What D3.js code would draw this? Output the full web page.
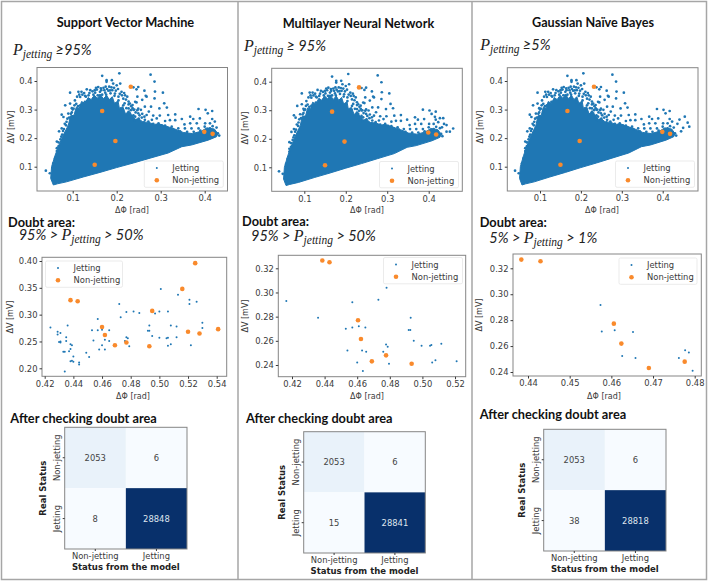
<!DOCTYPE html>
<html>
<head>
<meta charset="utf-8">
<script src="https://cdn.jsdelivr.net/npm/d3@7"></script>
<style>
  body { margin: 0; background: #fff; }
  text { font-family: "DejaVu Sans", sans-serif; }
</style>
</head>
<body>
<svg id="chart" width="708" height="582"></svg>
<script>
// outline of the solid part of the big cloud, [dPhi, dV]
const cloudOutline = [
  [.056,.036],[.065,.040],[.086,.047],[.124,.064],[.162,.080],[.200,.097],[.238,.113],[.276,.130],
  [.317,.148],[.348,.170],[.370,.176],[.408,.193],[.427,.205],[.430,.216],[.422,.232],[.405,.236],
  [.392,.224],[.372,.216],[.351,.220],[.332,.232],[.320,.238],[.308,.244],[.296,.250],[.285,.248],
  [.272,.256],[.260,.256],[.250,.268],[.242,.266],[.235,.280],[.226,.292],[.220,.285],[.214,.310],
  [.206,.305],[.203,.330],[.195,.322],[.190,.345],[.183,.335],[.177,.350],[.170,.338],[.163,.352],
  [.156,.340],[.149,.350],[.142,.335],[.135,.342],[.128,.322],[.120,.328],[.115,.305],[.108,.308],
  [.103,.280],[.095,.278],[.090,.245],[.080,.215],[.070,.180],[.060,.140],[.052,.100],[.050,.059]
];

// points read around the solid part, same in all three top plots
const cloudOutliers = [
  [.039,.086],[.206,.427],[.277,.422],[.286,.398],[.177,.403],[.238,.378],[.245,.371],[.263,.366],
  [.247,.345],[.268,.345],[.287,.363],[.305,.359],[.048,.077],[.056,.112],[.064,.188],[.075,.234]
];
const domePoints = [
  [.167,.418],[.189,.403],[.177,.397],[.158,.379],[.170,.376],[.132,.371],[.113,.362],[.094,.359],
  [.117,.344],[.136,.350],[.151,.359],[.105,.332],[.094,.321],[.083,.315],[.075,.282],[.079,.274],
  [.069,.224],[.200,.385],[.211,.362],[.196,.356],[.219,.350],[.230,.321],[.242,.327],[.249,.379],
  [.208,.391],[.192,.391],[.185,.367],[.174,.359],[.162,.350],[.147,.338],[.128,.327],[.117,.315],
  [.102,.303],[.090,.286],[.086,.257],[.227,.292],[.238,.280],[.249,.303],[.215,.315],[.204,.332],
  [.189,.327],
  [.214,.300],[.218,.322],[.222,.305],[.226,.282],[.232,.298],[.236,.272],[.112,.312],[.108,.320],
  [.122,.352],[.128,.348],[.145,.364],[.155,.370],[.165,.368],[.178,.372],[.188,.378],[.098,.290],
  [.092,.272],[.100,.275],[.108,.292],[.085,.245],[.080,.232],[.076,.212],[.072,.196],[.068,.172],
  [.064,.155],[.060,.130],[.058,.108],
  [.110,.345],[.115,.352],[.120,.362],[.126,.358],[.130,.345],[.138,.358],[.140,.368],[.147,.352],
  [.150,.368],[.153,.376],[.157,.350],[.162,.362],[.164,.374],[.167,.352],[.172,.368],[.175,.380],
  [.176,.352],[.181,.366],[.183,.380],[.186,.357],[.190,.368],[.194,.376],[.195,.348],[.198,.366],
  [.203,.372],[.204,.345],[.207,.355],[.212,.350],[.215,.338],[.217,.358],[.221,.335],[.224,.345],
  [.227,.318],[.233,.312],[.236,.305],[.240,.300],[.243,.290],[.247,.298],[.252,.280],[.258,.285],
  [.263,.275],[.100,.300],[.104,.315],[.098,.305],[.088,.268],[.096,.285],[.082,.250],[.078,.225],
  [.074,.205],[.068,.185],[.064,.165]
];
const tailPoints = [
  [.227,.328],[.236,.316],[.245,.325],[.258,.334],[.266,.348],[.286,.339],[.308,.322],[.314,.307],
  [.264,.310],[.278,.310],[.297,.304],[.273,.293],[.255,.299],[.227,.304],[.238,.299],[.249,.287],
  [.268,.281],[.283,.279],[.298,.279],[.317,.281],[.333,.283],[.321,.263],[.310,.260],[.333,.263],
  [.348,.267],[.367,.275],[.374,.267],[.386,.302],[.402,.299],[.407,.287],[.417,.295],[.389,.269],
  [.417,.267],[.423,.258],[.412,.252],[.401,.252],[.382,.252],[.367,.252],[.354,.248],[.264,.264],
  [.280,.264],[.291,.269],[.257,.272],[.242,.275],[.230,.287],[.295,.252],[.310,.244],[.325,.240],
  [.340,.234],[.355,.234],[.370,.234],[.386,.234],[.427,.237],[.430,.217],[.433,.209],[.412,.234],
  [.405,.205],[.240,.262],[.250,.268],[.262,.255],[.272,.258],[.283,.250],[.292,.246],[.302,.245],
  [.315,.236],[.328,.232],[.344,.224],[.360,.222],[.375,.222],[.390,.226],[.400,.240],[.418,.242],
  [.408,.222],[.420,.222],[.397,.212]
];
const mlpExtra = [[.459,.236],[.451,.225],[.443,.248],[.435,.272],[.427,.272],[.415,.277],[.443,.225],[.437,.252],[.432,.240]];
const gnbExtra = [[.465,.240],[.461,.254],[.454,.275],[.441,.265],[.445,.224],[.436,.250],[.450,.236]];
const cloudNonJetting = [[.150,.107],[.197,.190],[.167,.295],[.232,.380],[.399,.222],[.418,.215]];

// doubt area points
const svmDoubtJetting = [
  [.424,.276],[.429,.268],[.431,.266],[.429,.263],[.430,.249],[.431,.248],[.431,.250],[.435,.258],
  [.435,.251],[.436,.280],[.433,.231],[.434,.231],[.437,.232],[.438,.236],[.438,.245],[.439,.243],
  [.434,.194],[.438,.213],[.439,.214],[.440,.212],[.440,.222],[.444,.211],[.444,.207],[.449,.229],
  [.451,.221],[.453,.271],[.454,.252],[.457,.292],[.457,.271],[.458,.235],[.460,.243],[.460,.272],
  [.462,.253],[.462,.235],[.465,.271],[.465,.251],[.472,.320],[.473,.295],[.476,.251],[.477,.258],
  [.478,.256],[.477,.305],[.479,.241],[.482,.306],[.486,.303],[.492,.270],[.493,.270],[.493,.280],
  [.495,.260],[.497,.302],[.500,.257],[.500,.306],[.501,.348],[.505,.256],[.506,.257],[.506,.306],
  [.506,.242],[.508,.245],[.508,.280],[.512,.278],[.512,.258],[.513,.337],[.521,.328],[.521,.320],
  [.522,.243],[.526,.324],[.530,.285],[.530,.275]
];
const svmDoubtNonJetting = [
  [.438,.327],[.443,.325],[.460,.277],[.462,.262],[.469,.243],[.477,.248],[.493,.241],[.495,.307],
  [.516,.348],[.525,.396],[.520,.268],[.528,.265],[.541,.273]
];
const mlpDoubtJetting = [
  [.4165,.293],[.436,.279],[.453,.270],[.457,.271],[.457,.292],[.461,.272],[.465,.271],[.454,.252],
  [.460,.242],[.463,.252],[.4635,.235],[.4655,.251],[.473,.294],[.478,.304],[.476,.251],[.4777,.257],
  [.4787,.255],[.4795,.241],[.4916,.269],[.4926,.269],[.4928,.279],[.4947,.260],[.4995,.256],
  [.5047,.256],[.5055,.2565],[.506,.242],[.508,.244],[.5116,.2575],[.521,.243]
];
const mlpDoubtNonJetting = [
  [.4386,.3265],[.443,.325],[.4605,.277],[.4623,.2615],[.469,.243],[.4777,.248],[.4934,.241]
];
const gnbDoubtJetting = [
  [.4574,.2917],[.4577,.2712],[.4608,.2722],[.4652,.2709],[.4626,.2524],[.4658,.2508],[.4762,.2508],
  [.4777,.2568],[.4786,.255],[.4795,.241]
];
const gnbDoubtNonJetting = [
  [.4384,.3267],[.443,.3254],[.4606,.2773],[.4624,.2619],[.469,.2431],[.4776,.248]
];

// confusion matrices
const statusLabels = ["Non-jetting", "Jetting"];
const svmMatrix = [[2053, 6], [8, 28848]];
const mlpMatrix = [[2053, 6], [15, 28841]];
const gnbMatrix = [[2053, 6], [38, 28818]];

const cloudXTicks = [0.1, 0.2, 0.3, 0.4];
const cloudYTicks = [0.1, 0.2, 0.3, 0.4];

const blue = "#1f77b4";
const orange = "#f98a2c";
const axisColor = "#3a3a3a";
const frameColor = "#858585";
const borderColor = "#a6a6a6";

const svg = d3.select("#chart");

// page frame
svg.append("g")
  .attr("fill", "none")
  .attr("stroke", borderColor)
  .attr("stroke-width", 1.5)
  .selectAll("path")
  .data(["M1.5 579.5V1.5H706.5V579.5Z", "M238 1.5V579.5", "M472 1.5V579.5"])
  .join("path")
  .attr("d", d => d);

function drawScatter(o) {
  const x = d3.scaleLinear().domain(o.xDomain).range(o.xRange);
  const y = d3.scaleLinear().domain(o.yDomain).range(o.yRange);
  const g = svg.append("g");

  g.append("rect")
    .attr("x", o.frame[0]).attr("y", o.frame[1])
    .attr("width", o.frame[2] - o.frame[0]).attr("height", o.frame[3] - o.frame[1])
    .attr("fill", "#fff");

  if (o.outline) {
    const line = d3.line().x(d => x(d[0])).y(d => y(d[1])).curve(d3.curveLinearClosed);
    g.append("path").attr("d", line(o.outline)).attr("fill", blue).attr("stroke", blue).attr("stroke-width", 1);
  }

  g.selectAll(".jet")
    .data(o.jetting)
    .join("circle")
    .attr("class", "jet")
    .attr("cx", d => x(d[0])).attr("cy", d => y(d[1]))
    .attr("r", o.jetR)
    .attr("fill", blue);

  g.selectAll(".non")
    .data(o.nonJetting)
    .join("circle")
    .attr("class", "non")
    .attr("cx", d => x(d[0])).attr("cy", d => y(d[1]))
    .attr("r", 2.3)
    .attr("fill", orange);

  g.append("rect")
    .attr("x", o.frame[0]).attr("y", o.frame[1])
    .attr("width", o.frame[2] - o.frame[0]).attr("height", o.frame[3] - o.frame[1])
    .attr("fill", "none")
    .attr("stroke", frameColor);

  const xAxis = g.append("g")
    .attr("transform", `translate(0,${o.frame[3]})`)
    .call(d3.axisBottom(x).tickValues(o.xTicks).tickSize(2.5).tickPadding(2).tickFormat(d3.format(o.xFormat)));
  const yAxis = g.append("g")
    .attr("transform", `translate(${o.frame[0]},0)`)
    .call(d3.axisLeft(y).tickValues(o.yTicks).tickSize(2.5).tickPadding(2).tickFormat(d3.format(o.yFormat)));
  [xAxis, yAxis].forEach(a => {
    a.select(".domain").remove();
    a.selectAll("line").attr("stroke", axisColor);
    a.selectAll("text").attr("fill", axisColor).style("font-size", "8.4px").style("font-family", '"DejaVu Sans"');
  });

  g.append("text")
    .attr("x", o.xLabel[0]).attr("y", o.xLabel[1])
    .attr("text-anchor", "middle")
    .attr("font-size", 8).attr("fill", axisColor)
    .text("ΔΦ [rad]");
  g.append("text")
    .attr("transform", `translate(${o.yLabel[0]},${o.yLabel[1]}) rotate(-90)`)
    .attr("text-anchor", "middle")
    .attr("font-size", 8).attr("fill", axisColor)
    .text("ΔV [mV]");

  // legend box
  const l = o.legend;
  g.append("rect")
    .attr("x", l[0]).attr("y", l[1]).attr("width", l[2]).attr("height", l[3])
    .attr("rx", 1.5)
    .attr("fill", "#fff").attr("fill-opacity", 0.85)
    .attr("stroke", "#e2e2e2").attr("stroke-width", 0.7);
  statusLabels.slice().reverse().forEach((label, i) => {
    const rowY = l[1] + l[3] * (i === 0 ? 0.27 : 0.73);
    g.append("circle")
      .attr("cx", l[0] + 12.5).attr("cy", rowY)
      .attr("r", i === 0 ? 1 : 2.3)
      .attr("fill", i === 0 ? blue : orange);
    g.append("text")
      .attr("x", l[0] + 28).attr("y", rowY + 3)
      .attr("font-size", 8.4).attr("fill", axisColor)
      .text(label);
  });
}

function drawMatrix(o) {
  const x = d3.scaleBand().domain(statusLabels).range([o.x0, o.x1]);
  const y = d3.scaleBand().domain(statusLabels).range([o.y0, o.y1]);
  const color = d3.scaleSequential(d3.interpolateBlues).domain([0, 28848]);
  const g = svg.append("g");
  const cells = o.values.flatMap((row, r) => row.map((v, c) => ({ v, r: statusLabels[r], c: statusLabels[c] })));

  g.selectAll("rect")
    .data(cells)
    .join("rect")
    .attr("x", d => x(d.c)).attr("y", d => y(d.r))
    .attr("width", x.bandwidth()).attr("height", y.bandwidth())
    .attr("fill", d => color(d.v));
  g.selectAll(".val")
    .data(cells)
    .join("text")
    .attr("class", "val")
    .attr("x", d => x(d.c) + x.bandwidth() / 2)
    .attr("y", d => y(d.r) + y.bandwidth() / 2 + 3)
    .attr("text-anchor", "middle")
    .attr("font-size", 8.4)
    .attr("fill", d => d.v > 14000 ? "#dfe6ee" : "#444")
    .text(d => d.v);
  g.append("rect")
    .attr("x", o.x0).attr("y", o.y0)
    .attr("width", o.x1 - o.x0).attr("height", o.y1 - o.y0)
    .attr("fill", "none").attr("stroke", frameColor);

  const xAxis = g.append("g")
    .attr("transform", `translate(0,${o.y1})`)
    .call(d3.axisBottom(x).tickSize(2).tickPadding(2));
  const yAxis = g.append("g")
    .attr("transform", `translate(${o.x0},0)`)
    .call(d3.axisLeft(y).tickSize(2).tickPadding(2));
  [xAxis, yAxis].forEach(a => {
    a.select(".domain").remove();
    a.selectAll("line").attr("stroke", axisColor);
    a.selectAll("text").attr("fill", axisColor).style("font-size", "8.4px").style("font-family", '"DejaVu Sans"');
  });
  // y labels stand on end, like the picture
  yAxis.selectAll("text")
    .attr("transform", "rotate(-90)")
    .attr("x", 0).attr("y", -5)
    .attr("dy", 0)
    .attr("text-anchor", "middle");

  g.append("text")
    .attr("x", (o.x0 + o.x1) / 2).attr("y", o.y1 + 21)
    .attr("text-anchor", "middle")
    .attr("font-size", 8.5).attr("font-weight", "bold").attr("fill", "#222")
    .text("Status from the model");
  g.append("text")
    .attr("transform", `translate(${o.x0 - 19},${(o.y0 + o.y1) / 2}) rotate(-90)`)
    .attr("text-anchor", "middle")
    .attr("font-size", 8.5).attr("font-weight", "bold").attr("fill", "#222")
    .text("Real Status");
}

function heading(str, x, y, width, size) {
  svg.append("text")
    .attr("x", x).attr("y", y)
    .attr("textLength", width).attr("lengthAdjust", "spacingAndGlyphs")
    .style("font-family", "Lato, sans-serif")
    .attr("font-weight", "bold")
    .attr("font-size", size)
    .attr("fill", "#111")
    .text(str);
}

// "P jetting" with the pieces before and after it
function formula(before, after, x, y) {
  const t = svg.append("text")
    .attr("x", x).attr("y", y)
    .attr("font-size", 14.5)
    .attr("fill", "#222")
    .style("font-family", "Lato, sans-serif")
    .attr("font-style", "italic");
  if (before) t.append("tspan").text(before);
  t.append("tspan").style("font-family", '"Liberation Serif", serif').attr("font-size", 16).text("P");
  t.append("tspan").style("font-family", '"Liberation Serif", serif').attr("font-size", 11.5).attr("dy", 3).text("jetting");
  t.append("tspan").attr("dy", -3).text(after);
}

const cloudJetting = cloudOutliers.concat(domePoints, tailPoints);
const cloudBase = {
  xTicks: cloudXTicks, yTicks: cloudYTicks, xFormat: ".1f", yFormat: ".1f",
  xDomain: [0.1, 0.4], yDomain: [0.1, 0.4], outline: cloudOutline, nonJetting: cloudNonJetting, jetR: 1.35
};

// top row
drawScatter({ ...cloudBase, frame: [37, 67.5, 227.5, 191], xRange: [72.7, 204.7], yRange: [166.7, 81],
  jetting: cloudJetting, xLabel: [132, 213], yLabel: [14, 127], legend: [144.3, 161, 79, 26.3] });
drawScatter({ ...cloudBase, frame: [271.7, 68.3, 462.3, 191.3], xRange: [304.3, 428.7], yRange: [167.3, 81.7],
  jetting: cloudJetting.concat(mlpExtra), xLabel: [367, 213], yLabel: [248, 128], legend: [379.5, 161.5, 79, 26.3] });
drawScatter({ ...cloudBase, frame: [507.3, 67.7, 698, 191], xRange: [540, 662.7], yRange: [166.7, 81],
  jetting: cloudJetting.concat(gnbExtra), xLabel: [602, 213], yLabel: [483, 127], legend: [615.5, 161, 79, 26.3] });

// middle row
drawScatter({ frame: [42, 257.3, 226.7, 376.3], xDomain: [.42, .54], xRange: [44.7, 216.7], yDomain: [.20, .40], yRange: [368.3, 261],
  xTicks: [.42, .44, .46, .48, .50, .52, .54], yTicks: [.20, .25, .30, .35, .40], xFormat: ".2f", yFormat: ".2f",
  jetting: svmDoubtJetting, nonJetting: svmDoubtNonJetting, jetR: 1, xLabel: [133, 399], yLabel: [13, 317], legend: [45.5, 261, 77, 26.3] });
drawScatter({ frame: [278.3, 255.3, 465.7, 376.7], xDomain: [.42, .52], xRange: [292, 455], yDomain: [.24, .32], yRange: [365, 268.3],
  xTicks: [.42, .44, .46, .48, .50, .52], yTicks: [.24, .26, .28, .30, .32], xFormat: ".2f", yFormat: ".2f",
  jetting: mlpDoubtJetting, nonJetting: mlpDoubtNonJetting, jetR: 1, xLabel: [367, 399], yLabel: [248, 316], legend: [383.5, 257.5, 79, 26.3] });
drawScatter({ frame: [513, 254, 701.3, 376], xDomain: [.44, .48], xRange: [528, 694.7], yDomain: [.24, .32], yRange: [372, 268.3],
  xTicks: [.44, .45, .46, .47, .48], yTicks: [.24, .26, .28, .30, .32], xFormat: ".2f", yFormat: ".2f",
  jetting: gnbDoubtJetting, nonJetting: gnbDoubtNonJetting, jetR: 1, xLabel: [604, 399], yLabel: [482, 315], legend: [619, 258, 78, 26.3] });

// bottom row
drawMatrix({ values: svmMatrix, x0: 64.7, x1: 187, y0: 427.3, y1: 549 });
drawMatrix({ values: mlpMatrix, x0: 303.7, x1: 425.3, y0: 431.7, y1: 553 });
drawMatrix({ values: gnbMatrix, x0: 543.7, x1: 666, y0: 429.3, y1: 551 });

// headings
heading("Support Vector Machine", 56.7, 27.3, 137.5, 14);
heading("Multilayer Neural Network", 282.7, 28.3, 151.5, 14);
heading("Gaussian Naïve Bayes", 532, 26.7, 122, 14);
heading("Doubt area:", 8, 226.7, 67, 14);
heading("Doubt area:", 242, 225.7, 67, 14);
heading("Doubt area:", 479.7, 227, 67, 14);
heading("After checking doubt area", 10.3, 422.7, 146.5, 14);
heading("After checking doubt area", 246, 422.7, 146.5, 14);
heading("After checking doubt area", 479.7, 419, 146.5, 14);

formula("", " ≥95%", 13, 55);
formula("", " ≥ 95%", 244, 50.7);
formula("", " ≥5%", 480.3, 50);
formula("95% > ", " > 50%", 18.7, 240);
formula("95% > ", " > 50%", 251, 240.7);
formula("5% > ", " > 1%", 489.3, 242.7);
</script>
</body>
</html>
